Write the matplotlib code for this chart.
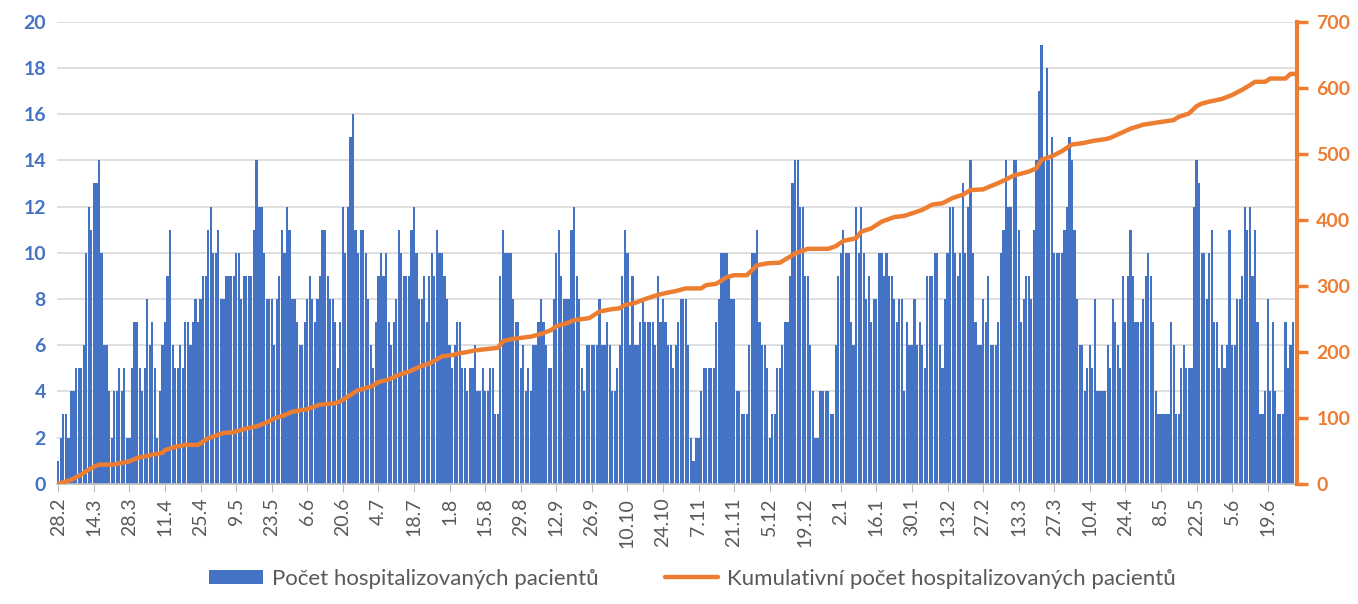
import numpy as np
import matplotlib.pyplot as plt

plt.rcParams['font.family'] = ['Lato', 'DejaVu Sans']

# daily number of hospitalized patients (28.2 -> 30.6)
daily = [
    1, 2, 3, 3, 2, 4, 4, 5, 5, 5,
    6, 10, 12, 11, 13, 13, 14, 10, 6, 6,
    4, 2, 4, 4, 5, 4, 5, 2, 2, 5,
    7, 7, 5, 4, 5, 8, 6, 7, 5, 2,
    4, 6, 7, 9, 11, 6, 5, 5, 6, 5,
    7, 7, 6, 7, 8, 7, 8, 9, 9, 11,
    12, 10, 10, 11, 8, 8, 9, 9, 9, 9,
    10, 10, 8, 9, 9, 9, 9, 11, 14, 12,
    12, 10, 8, 8, 8, 6, 8, 9, 11, 10,
    12, 11, 8, 8, 7, 6, 6, 7, 8, 9,
    8, 7, 8, 9, 11, 11, 9, 8, 8, 7,
    5, 7, 12, 10, 12, 15, 16, 11, 10, 11,
    11, 10, 8, 6, 5, 7, 9, 10, 9, 10,
    7, 6, 7, 8, 11, 10, 9, 9, 9, 11,
    12, 10, 8, 8, 9, 7, 9, 10, 9, 11,
    10, 10, 9, 8, 6, 5, 6, 7, 7, 5,
    5, 4, 5, 5, 6, 4, 4, 5, 4, 4,
    5, 5, 3, 3, 9, 11, 10, 10, 10, 8,
    7, 7, 5, 6, 4, 5, 4, 6, 6, 7,
    8, 7, 6, 5, 5, 8, 10, 11, 9, 8,
    8, 8, 11, 12, 9, 8, 5, 4, 6, 6,
    6, 6, 6, 8, 6, 6, 7, 6, 4, 4,
    5, 6, 9, 11, 10, 6, 9, 6, 6, 7,
    8, 7, 7, 7, 7, 6, 9, 7, 8, 7,
    6, 6, 5, 6, 7, 8, 8, 8, 6, 2,
    1, 2, 2, 4, 5, 5, 5, 5, 5, 7,
    8, 10, 10, 10, 9, 8, 8, 4, 4, 3,
    3, 3, 6, 10, 10, 11, 7, 6, 6, 5,
    2, 3, 3, 5, 5, 6, 7, 7, 9, 13,
    14, 14, 12, 12, 9, 9, 6, 4, 2, 2,
    4, 4, 4, 4, 3, 3, 6, 9, 10, 11,
    10, 10, 7, 6, 12, 10, 12, 10, 8, 9,
    7, 8, 8, 10, 10, 9, 10, 9, 9, 8,
    7, 8, 8, 4, 7, 6, 6, 8, 6, 7,
    6, 5, 9, 9, 9, 10, 10, 6, 5, 8,
    10, 12, 12, 10, 9, 10, 13, 10, 12, 14,
    10, 7, 6, 6, 8, 7, 9, 6, 6, 6,
    7, 10, 11, 14, 12, 12, 14, 14, 11, 7,
    8, 9, 9, 8, 11, 14, 17, 19, 14, 18,
    14, 15, 10, 10, 10, 10, 11, 12, 15, 14,
    11, 8, 6, 6, 4, 5, 6, 5, 8, 4,
    4, 4, 4, 6, 5, 8, 7, 6, 5, 9,
    7, 9, 11, 9, 7, 7, 7, 8, 9, 10,
    9, 7, 4, 3, 3, 3, 3, 3, 7, 6,
    3, 3, 5, 6, 5, 5, 5, 12, 14, 13,
    10, 10, 8, 10, 11, 7, 7, 5, 6, 5,
    6, 11, 6, 6, 8, 8, 9, 12, 11, 12,
    9, 11, 7, 3, 3, 4, 8, 4, 7, 4,
    3, 3, 3, 7, 5, 6, 7, 2,
]

# cumulative count, read at these day indices
cum_days = [0, 5, 9, 13, 16, 22, 24, 28, 31, 37, 41, 42, 46, 50, 55, 59, 65, 69, 73, 78,
            82, 85, 89, 92, 96, 98, 103, 109, 111, 114, 118, 123, 126, 130, 134, 138, 142,
            147, 151, 155, 158, 160, 164, 166, 173, 175, 178, 182, 186, 190, 194, 196, 200,
            203, 209, 213, 217, 221, 223, 227, 231, 235, 239, 243, 247, 253, 255, 259, 263,
            266, 271, 275, 279, 284, 288, 290, 295, 303, 306, 309, 314, 316, 320, 324, 329,
            333, 337, 340, 344, 348, 352, 356, 359, 364, 367, 369, 373, 376, 382, 385, 387,
            391, 395, 399, 403, 408, 412, 414, 418, 422, 427, 432, 439, 441, 445, 448, 450,
            453, 458, 462, 466, 469, 471, 475, 477, 483, 485, 487]
cum_values = [0, 6, 14, 24, 29, 29, 31, 34, 39, 44, 47, 51, 56, 59, 59, 69, 77, 78, 83, 87,
              93, 99, 104, 109, 112, 113, 120, 122, 125, 132, 142, 147, 154, 158, 165, 170, 177,
              184, 193, 195, 198, 199, 202, 203, 206, 216, 219, 221, 223, 227, 233, 239, 243,
              248, 251, 261, 264, 266, 271, 274, 280, 285, 289, 292, 296, 296, 301, 303, 313,
              316, 316, 331, 334, 335, 344, 349, 356, 356, 360, 368, 372, 382, 387, 397, 404,
              406, 411, 415, 423, 425, 433, 438, 445, 446, 451, 454, 461, 467, 473, 478, 491,
              496, 504, 514, 516, 520, 522, 524, 531, 538, 544, 547, 551, 556, 561, 572, 576,
              579, 583, 589, 597, 604, 609, 609, 614, 614, 621, 621]

tick_labels = ['28.2', '14.3', '28.3', '11.4', '25.4', '9.5', '23.5', '6.6', '20.6', '4.7',
               '18.7', '1.8', '15.8', '29.8', '12.9', '26.9', '10.10', '24.10', '7.11',
               '21.11', '5.12', '19.12', '2.1', '16.1', '30.1', '13.2', '27.2', '13.3',
               '27.3', '10.4', '24.4', '8.5', '22.5', '5.6', '19.6']

blue = '#4472C4'
orange = '#ED7D31'
grey = '#595959'

fig = plt.figure(figsize=(13.58, 6.04), dpi=100)
ax = fig.add_axes([0.042, 0.199, 0.913, 0.765])
x = np.arange(len(daily))
ax.bar(x, daily, width=0.86, color=blue, label='Počet hospitalizovaných pacientů', zorder=2)
ax.set_xlim(-0.5, len(daily) - 0.5)
ax.set_ylim(0, 20)
ax.set_yticks(range(0, 21, 2))
ax.grid(axis='y', color='#D9D9D9', linewidth=1.2, zorder=0)
ax.set_axisbelow(True)
for s in ['top', 'left', 'right']:
    ax.spines[s].set_visible(False)
ax.spines['bottom'].set_color('#BFBFBF')
ax.spines['bottom'].set_linewidth(1.2)
ax.tick_params(axis='y', length=0, labelsize=14, labelcolor=blue, pad=8)
for lab in ax.get_yticklabels():
    lab.set_fontweight('bold')
ax.set_xticks(np.arange(len(tick_labels)) * 14)
ax.set_xticklabels(tick_labels, rotation=90, fontsize=14, color=grey)
ax.tick_params(axis='x', length=6, color='#BFBFBF', pad=4)

ax2 = ax.twinx()
ax2.plot(cum_days, cum_values, color=orange, linewidth=3.2, solid_capstyle='round',
         label='Kumulativní počet hospitalizovaných pacientů', zorder=3)
ax2.set_ylim(0, 700)
ax2.set_yticks(range(0, 701, 100))
for s in ['top', 'left', 'bottom']:
    ax2.spines[s].set_visible(False)
ax2.spines['right'].set_color(orange)
ax2.spines['right'].set_linewidth(3)
ax2.tick_params(axis='y', colors=orange, length=8, width=2.5, labelsize=14, pad=6)
for lab in ax2.get_yticklabels():
    lab.set_fontweight('bold')

h1, l1 = ax.get_legend_handles_labels()
h2, l2 = ax2.get_legend_handles_labels()
fig.legend(h1 + h2, l1 + l2, loc='lower center', bbox_to_anchor=(0.51, -0.008), ncol=2,
           frameon=False, fontsize=16, handlelength=2.4, handleheight=0.6,
           handletextpad=0.4, columnspacing=3.0, labelcolor=grey)

fig.savefig('out.png', dpi=100)
